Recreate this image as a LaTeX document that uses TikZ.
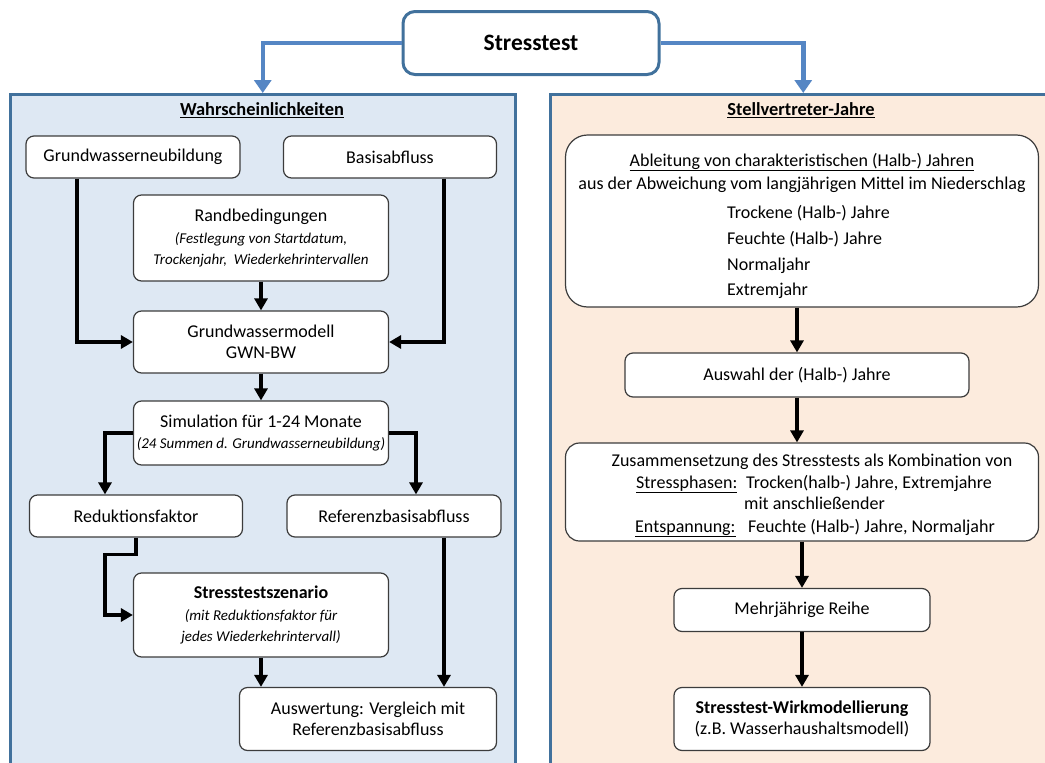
\documentclass[tikz,border=0pt]{standalone}
\usepackage{fontspec}
\setmainfont{Carlito}
\usetikzlibrary{arrows.meta,positioning,calc}
\definecolor{frameBlue}{RGB}{65,113,156}
\definecolor{arrowBlue}{RGB}{85,134,196}
\definecolor{panelBlue}{RGB}{222,232,243}
\definecolor{panelPeach}{RGB}{252,235,221}
\definecolor{boxLine}{RGB}{60,60,60}
\tikzset{
  box/.style={draw=boxLine, rounded corners=8pt, line width=1.2pt, fill=white, align=center, inner sep=0pt, font=\fontsize{18}{21}\selectfont},
  panel/.style={draw=frameBlue, line width=2.5pt, anchor=north west},
  heading/.style={font=\fontsize{18.4}{21}\selectfont\bfseries},
  txt/.style={inner sep=0pt, anchor=base, font=\fontsize{18}{21}\selectfont},
  arrow/.style={-{Triangle[length=12pt,width=13pt]}, line width=3.5pt},
  bluearrow/.style={-{Triangle[length=13pt,width=17pt]}, line width=4.5pt, draw=arrowBlue}
}
\newcommand{\smallnote}{\fontsize{15}{18}\selectfont\itshape}

\begin{document}
\begin{tikzpicture}[x=1pt,y=-1pt]
  \useasboundingbox (0,0) rectangle (1045,763);
  \clip (0,0) rectangle (1045,763);

  % panels
  \node[panel, fill=panelBlue, minimum width=505pt, minimum height=700pt] (leftpanel) at (9,93) {};
  \node[panel, fill=panelPeach, minimum width=506pt, minimum height=700pt] (rightpanel) at (549,93) {};
  \node[heading] (leftTitle) at (262,110) {\underline{Wahrscheinlichkeiten}};
  \node[heading] (rightTitle) at (801,110) {\underline{Stellvertreter-Jahre}};

  % top
  \node[box, draw=frameBlue, line width=3pt, rounded corners=12pt, minimum width=256pt, minimum height=63pt, font=\fontsize{23.5}{28}\selectfont\bfseries] (stress) at (531,43) {Stresstest};
  \draw[bluearrow] (stress.west) -| (leftpanel.north);
  \draw[bluearrow] (stress.east) -| (rightpanel.north);

  % left column
  \node[box, minimum width=214pt, minimum height=42pt] (gwnb) at (133,157) {Grundwasserneubildung};
  \node[box, minimum width=213pt, minimum height=42pt] (basis) at (390,157) {Basisabfluss};
  \node[box, minimum width=255pt, minimum height=86pt] (rand) at (261,238) {Randbedingungen\\[1pt]\smallnote (Festlegung von Startdatum,\\\smallnote Trockenjahr,~ Wiederkehrintervallen};
  \node[box, minimum width=255pt, minimum height=62pt] (gwm) at (261,342) {Grundwassermodell\\GWN-BW};
  \node[box, minimum width=255pt, minimum height=64pt] (sim) at (261,433) {Simulation für 1-24 Monate\\\smallnote (24 Summen d. Grundwasserneubildung)};
  \node[box, minimum width=213pt, minimum height=42pt] (red) at (136,516) {Reduktionsfaktor};
  \node[box, minimum width=214pt, minimum height=42pt] (refb) at (394,516) {Referenzbasisabfluss};
  \node[box, minimum width=255pt, minimum height=84pt] (szen) at (261,615) {\textbf{Stresstestszenario}\\[1pt]\smallnote (mit Reduktionsfaktor für\\\smallnote jedes Wiederkehrintervall)};
  \node[box, minimum width=257pt, minimum height=63pt] (ausw) at (368,719) {Auswertung: Vergleich mit\\Referenzbasisabfluss};

  \draw[arrow] ([xshift=-56pt]gwnb.south) |- (gwm.west);
  \draw[arrow] ([xshift=54pt]basis.south) |- (gwm.east);
  \draw[arrow] (rand) -- (gwm);
  \draw[arrow] (gwm) -- (sim);
  \draw[arrow] (sim.west) -| ([xshift=-31pt]red.north);
  \draw[arrow] (sim.east) -| ([xshift=22pt]refb.north);
  \draw[arrow] (red.south) -- ++(0,17) -- ++(-31,0) |- (szen.west);
  \draw[arrow] (szen.south) -- (szen.south |- ausw.north);
  \draw[arrow] ([xshift=50pt]refb.south) -- ([xshift=50pt]refb.south |- ausw.north);

  % right column
  \node[box, rounded corners=22pt, minimum width=473pt, minimum height=172pt] (ableitung) at (802,221) {};
  \node[txt] (abl1) at (802,166) {\underline{Ableitung von charakteristischen (Halb-) Jahren}};
  \node[txt] (abl2) at (802,189) {aus der Abweichung vom langjährigen Mittel im Niederschlag};
  \node[txt, anchor=base west] (abl3) at (727,218) {Trockene (Halb-) Jahre};
  \node[txt, anchor=base west] (abl4) at (727,244) {Feuchte (Halb-) Jahre};
  \node[txt, anchor=base west] (abl5) at (727,270) {Normaljahr};
  \node[txt, anchor=base west] (abl6) at (727,295) {Extremjahr};

  \node[box, minimum width=344pt, minimum height=44pt] (auswahl) at (797,375) {Auswahl der (Halb-) Jahre};

  \node[box, rounded corners=14pt, minimum width=473pt, minimum height=98pt] (zus) at (802,492) {};
  \node[txt] (zus1) at (812,466) {Zusammensetzung des Stresstests als Kombination von};
  \node[txt, anchor=base west] (zus2a) at (636,488) {\underline{Stressphasen:}};
  \node[txt, anchor=base west] (zus2b) at (746,488) {Trocken(halb-) Jahre, Extremjahre};
  \node[txt, anchor=base west] (zus3) at (744,509) {mit anschließender};
  \node[txt, anchor=base west] (zus4a) at (635,532) {\underline{Entspannung:}};
  \node[txt, anchor=base west] (zus4b) at (748,532) {Feuchte (Halb-) Jahre, Normaljahr};

  \node[box, minimum width=256pt, minimum height=43pt] (mehr) at (802,610) {Mehrjährige Reihe};
  \node[box, minimum width=256pt, minimum height=63pt] (wirk) at (802,719) {\textbf{Stresstest-Wirkmodellierung}\\(z.B. Wasserhaushaltsmodell)};

  \draw[arrow] (ableitung.south -| auswahl.north) -- (auswahl.north);
  \draw[arrow] (auswahl.south) -- (auswahl.south |- zus.north);
  \draw[arrow] (zus.south -| mehr.north) -- (mehr.north);
  \draw[arrow] (mehr) -- (wirk);
\end{tikzpicture}
\end{document}
